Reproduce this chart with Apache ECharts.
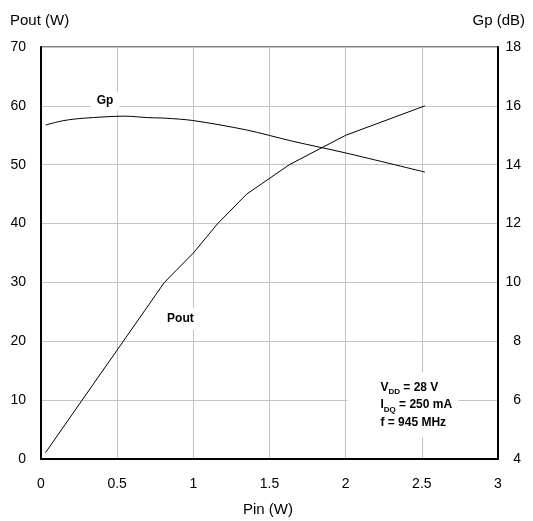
<!DOCTYPE html>
<html>
<head>
<meta charset="utf-8">
<script src="https://cdn.jsdelivr.net/npm/echarts@6/dist/echarts.min.js"></script>
<style>
html,body{margin:0;padding:0;background:#fff;}
#chart{width:533px;height:521px;}
</style>
</head>
<body>
<div id="chart"></div>
<script>
// Pout (W) vs Pin (W)
const poutPin = [0.03, 0.27, 0.54, 0.81, 1.0, 1.16, 1.35, 1.63, 2.0, 2.52];
const poutVal = [1.1, 10, 20, 30, 35, 40, 45, 50, 55, 60];
// Gp (dB) vs Pin (W)
const gpPin = [0.03, 0.15, 0.28, 0.55, 0.7, 0.82, 1.0, 1.35, 1.65, 2.0, 2.52];
const gpVal = [15.35, 15.5, 15.58, 15.65, 15.6, 15.58, 15.5, 15.18, 14.8, 14.4, 13.75];
// axis ticks
const xTicks = { min: 0, max: 3, step: 0.5 };
const yLeftTicks = { min: 0, max: 70, step: 10 };
const yRightTicks = { min: 4, max: 18, step: 2 };
// text labels (data coordinates on Pin / Pout axes)
const gpLabelPos = [0.42, 60.8];
const poutLabelPos = [0.915, 23.8];
const condPos = [2.228, 9.2];

const font = 'Liberation Sans, Arial, sans-serif';
const chart = echarts.init(document.getElementById('chart'), null, { renderer: 'canvas' });

const gridColor = '#c4c4c4';
const option = {
  backgroundColor: '#fff',
  animation: false,
  textStyle: { fontFamily: font },
  grid: { left: 41, right: 35, top: 47, bottom: 62, show: true, borderColor: '#000', borderWidth: 1, backgroundColor: 'transparent' },
  xAxis: {
    type: 'value', min: xTicks.min, max: xTicks.max, interval: xTicks.step,
    axisLine: { show: true, onZero: false, lineStyle: { color: '#000', width: 2 } },
    axisTick: { show: false },
    splitLine: { show: true, lineStyle: { color: gridColor, width: 1 } },
    axisLabel: { color: '#000', fontSize: 14, fontFamily: font, margin: 18 }
  },
  yAxis: [
    {
      type: 'value', min: yLeftTicks.min, max: yLeftTicks.max, interval: yLeftTicks.step,
      axisLine: { show: true, onZero: false, lineStyle: { color: '#000', width: 2 } },
      axisTick: { show: false },
      splitLine: { show: true, lineStyle: { color: gridColor, width: 1 } },
      axisLabel: { color: '#000', fontSize: 14, fontFamily: font, margin: 15 }
    },
    {
      type: 'value', position: 'right', min: yRightTicks.min, max: yRightTicks.max, interval: yRightTicks.step,
      axisLine: { show: true, onZero: false, lineStyle: { color: '#000', width: 2 } },
      axisTick: { show: false },
      splitLine: { show: false },
      axisLabel: { color: '#000', fontSize: 14, fontFamily: font, margin: 23, align: 'right' }
    }
  ],
  graphic: [
    { type: 'text', left: 10, top: 13, style: { text: 'Pout (W)', fill: '#000', font: '15px ' + font } },
    { type: 'text', right: 8, top: 13, style: { text: 'Gp (dB)', fill: '#000', font: '15px ' + font } },
    { type: 'text', left: 243, top: 502, style: { text: 'Pin (W)', fill: '#000', font: '15px ' + font } }
  ],
  series: [
    {
      name: 'Pout', type: 'line', yAxisIndex: 0, z: 3,
      data: poutPin.map((p, i) => [p, poutVal[i]]),
      showSymbol: false, symbol: 'none',
      lineStyle: { color: '#000', width: 1 },
      markPoint: {
        symbol: 'rect', symbolSize: 0, silent: true,
        data: [
          {
            coord: gpLabelPos, value: 'Gp',
            label: { show: true, position: 'inside', formatter: 'Gp', color: '#000', fontWeight: 'bold', fontSize: 12, fontFamily: font, backgroundColor: '#fff', padding: [4, 6, 3, 6] }
          },
          {
            coord: poutLabelPos, value: 'Pout',
            label: { show: true, position: 'inside', formatter: 'Pout', color: '#000', fontWeight: 'bold', fontSize: 12, fontFamily: font, backgroundColor: '#fff', padding: [5, 2, 5, 2] }
          },
          {
            coord: condPos, value: 'cond',
            label: {
              show: true, position: 'inside', align: 'left', verticalAlign: 'middle', offset: [-33, 0],
              backgroundColor: '#fff', padding: [6, 6, 6, 33], lineHeight: 17.5,
              formatter: '{b|V}{s|DD}{b| = 28 V}\n{b|I}{s|DQ}{b| = 250 mA}\n{b|f = 945 MHz}',
              rich: {
                b: { fontWeight: 'bold', fontSize: 12, fontFamily: font, color: '#000', lineHeight: 17.5 },
                s: { fontWeight: 'bold', fontSize: 8, fontFamily: font, color: '#000', lineHeight: 14, verticalAlign: 'bottom' }
              }
            }
          }
        ]
      }
    },
    {
      name: 'Gp', type: 'line', yAxisIndex: 1, z: 3,
      data: gpPin.map((p, i) => [p, gpVal[i]]),
      showSymbol: false, symbol: 'none', smooth: 0.3,
      lineStyle: { color: '#000', width: 1 }
    }
  ]
};
chart.setOption(option);
</script>
</body>
</html>
